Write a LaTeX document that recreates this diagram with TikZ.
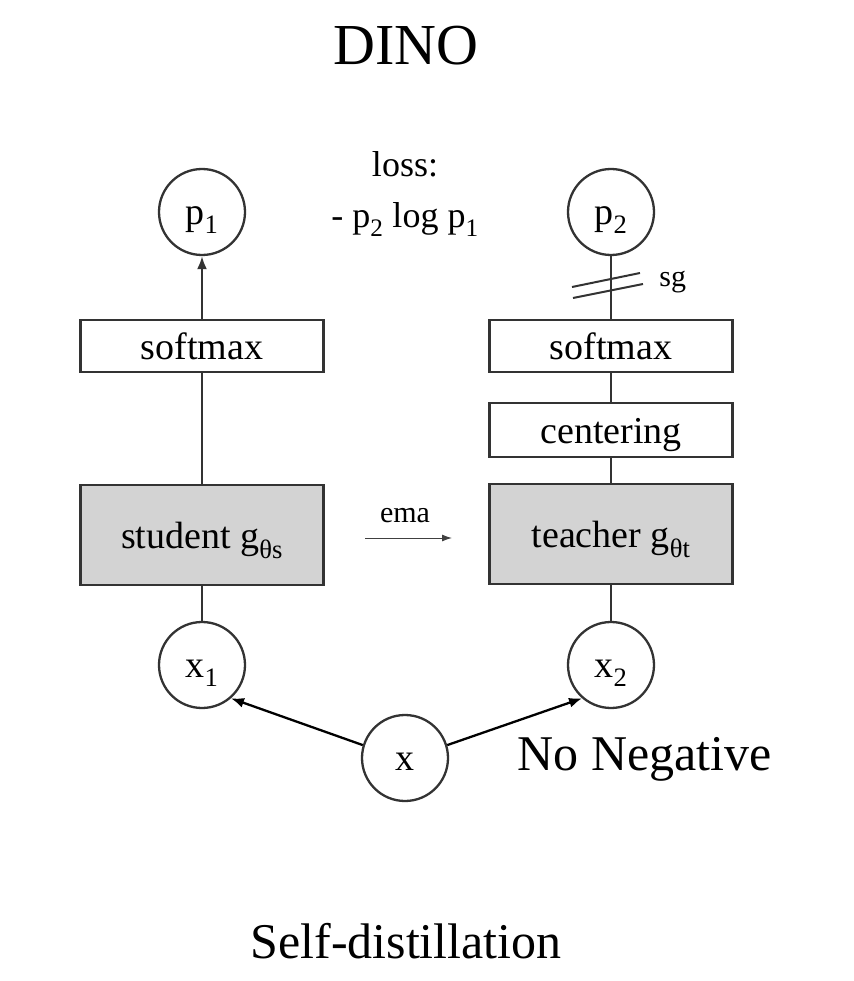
\documentclass[tikz,border=0pt]{standalone}
\usepackage{fontspec}
\setmainfont{Liberation Serif}
\usetikzlibrary{arrows.meta}
\definecolor{netgray}{RGB}{211,211,211}

\begin{document}
\begin{tikzpicture}[x=1pt, y=-1pt, line width=2.3pt, draw=black!80,
  every node/.style={font=\fontsize{38}{44}\selectfont},
  blk/.style={draw, minimum width=243pt, minimum height=52pt, inner sep=0pt,
    text height=26pt, text depth=0pt},
  net/.style={blk, fill=netgray, minimum height=100pt},
  var/.style={draw, circle, minimum size=86pt, inner sep=0pt,
    text height=25pt, text depth=0pt},
  tip/.style={-{Latex[length=13pt,width=10pt]}}]
  \useasboundingbox (0,0) rectangle (853,981);

  % Titles
  \node[anchor=base, font=\fontsize{58}{64}\selectfont] (title) at (406,65) {DINO};
  \node[anchor=base, font=\fontsize{50}{56}\selectfont] (caption) at (406,958) {Self-distillation};
  \node[anchor=base west, font=\fontsize{50}{56}\selectfont] (noneg) at (513,770) {No Negative};

  % Outputs and loss
  \node[var] (p1) at (202,212) {p\textsubscript{1}};
  \node[var] (p2) at (611,212) {p\textsubscript{2}};
  \node[anchor=base, font=\fontsize{36}{40}\selectfont] (loss) at (405,177) {loss:};
  \node[anchor=base, font=\fontsize{36}{40}\selectfont] (lossfn) at (405,228) {- p\textsubscript{2} log p\textsubscript{1}};

  % Student branch
  \node[blk] (sml) at (202,346) {softmax};
  \node[net] (stu) at (202,535) {student g\textsubscript{θs}};
  \node[var] (x1) at (202,665) {x\textsubscript{1}};

  % Teacher branch
  \node[blk] (smr) at (611,346) {softmax};
  \node[blk, minimum height=54pt] (cen) at (611,430) {centering};
  \node[net] (tea) at (611,534) {teacher g\textsubscript{θt}};
  \node[var] (x2) at (611,665) {x\textsubscript{2}};

  % Input
  \node[var] (x) at (405,758) {x};

  % Connectors
  \draw[tip] (sml) -- (p1);
  \draw (stu) -- (sml);
  \draw (x1) -- (stu);
  \draw (p2) -- (smr);
  \draw (cen) -- (smr);
  \draw (tea) -- (cen);
  \draw (x2) -- (tea);
  \draw[tip, draw=black] (x.163) -- (x1.-49);
  \draw[tip, draw=black] (x.17) -- (x2.-131);

  % Stop-gradient marks
  \coordinate (cut) at (611,285);
  \draw[line width=2pt] (cut) ++(-39,2) -- ++(68,-14);
  \draw[line width=2pt] (cut) ++(-38,13) -- ++(70,-14);
  \node[anchor=west, font=\fontsize{30}{34}\selectfont] (sg) at (655,282) {sg};

  % EMA update
  \coordinate (emafrom) at (365,538);
  \coordinate (emato) at (452,538);
  \draw[-{Latex[length=10pt,width=7pt]}, line width=1pt, draw=black!75] (emafrom) -- (emato);
  \node[anchor=base, font=\fontsize{30}{34}\selectfont] (ema) at (405,522) {ema};
\end{tikzpicture}
\end{document}
